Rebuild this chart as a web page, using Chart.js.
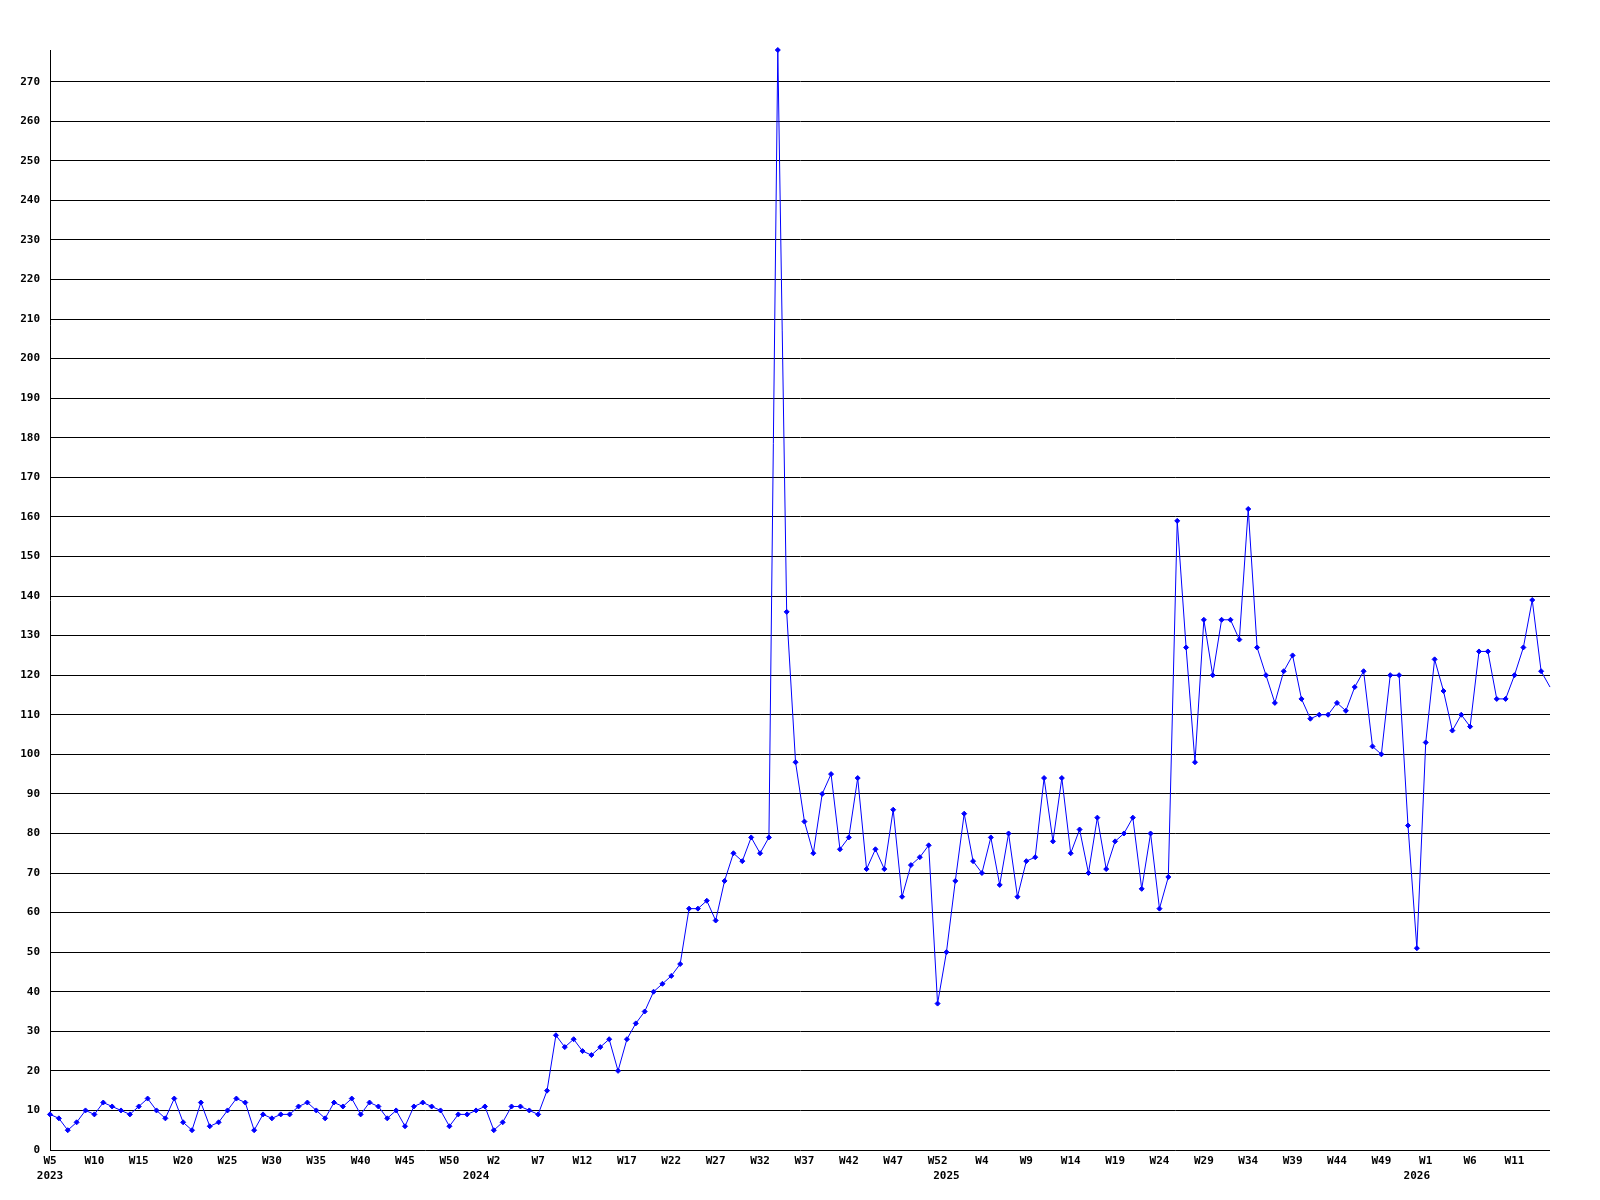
<!DOCTYPE html>
<html>
<head>
<meta charset="utf-8">
<script src="https://cdn.jsdelivr.net/npm/chart.js@4"></script>
<style>
  body { margin: 0; background: #fff; }
</style>
</head>
<body>
<canvas id="weekly" width="1600" height="1200"></canvas>
<script>
// weeks covered per year (first / last week number shown)
const years = [2023, 2024, 2025, 2026];
const firstWeek = [5, 0, 0, 0];
const lastWeek = [52, 52, 52, 15];

const counts = [
  9, 8, 5, 7, 10, 9, 12, 11, 10, 9,
  11, 13, 10, 8, 13, 7, 5, 12, 6, 7,
  10, 13, 12, 5, 9, 8, 9, 9, 11, 12,
  10, 8, 12, 11, 13, 9, 12, 11, 8, 10,
  6, 11, 12, 11, 10, 6, 9, 9, 10, 11,
  5, 7, 11, 11, 10, 9, 15, 29, 26, 28,
  25, 24, 26, 28, 20, 28, 32, 35, 40, 42,
  44, 47, 61, 61, 63, 58, 68, 75, 73, 79,
  75, 79, 278, 136, 98, 83, 75, 90, 95, 76,
  79, 94, 71, 76, 71, 86, 64, 72, 74, 77,
  37, 50, 68, 85, 73, 70, 79, 67, 80, 64,
  73, 74, 94, 78, 94, 75, 81, 70, 84, 71,
  78, 80, 84, 66, 80, 61, 69, 159, 127, 98,
  134, 120, 134, 134, 129, 162, 127, 120, 113, 121,
  125, 114, 109, 110, 110, 113, 111, 117, 121, 102,
  100, 120, 120, 82, 51, 103, 124, 116, 106, 110,
  107, 126, 126, 114, 114, 120, 127, 139, 121, 117
];

const yMax = 278;
const yStep = 10;

// build the week categories and remember where each year starts
const weeks = [];
const yearAt = {};
years.forEach((y, k) => {
  yearAt[weeks.length] = String(y);
  for (let w = firstWeek[k]; w <= lastWeek[k]; w++) weeks.push('W' + w);
});

const font = { family: '"DejaVu Sans Mono", monospace', size: 11, weight: 'bold', lineHeight: '15px' };

new Chart(document.getElementById('weekly').getContext('2d'), {
  type: 'line',
  data: {
    labels: weeks,
    datasets: [{
      data: counts,
      borderColor: '#0000ff',
      backgroundColor: '#0000ff',
      borderWidth: 1,
      tension: 0,
      pointStyle: 'rectRot',
      pointRadius: ctx => ctx.dataIndex === counts.length - 1 ? 0 : 2.5,
      pointBorderWidth: 1,
      clip: false
    }]
  },
  options: {
    responsive: false,
    animation: false,
    layout: { padding: { top: 50, right: 50, left: 0, bottom: 0 } },
    plugins: { legend: { display: false }, tooltip: { enabled: false } },
    scales: {
      x: {
        offset: false,
        grid: { display: false, drawTicks: false },
        border: { display: false },
        afterFit: s => { s.height = 50; },
        ticks: {
          autoSkip: false,
          maxRotation: 0,
          padding: 4,
          color: '#000',
          font: font,
          callback: (v, i) => {
            const wk = i % 5 === 0 ? weeks[i] : '';
            if (yearAt[i]) return [wk, yearAt[i]];
            return wk || null;
          }
        }
      },
      y: {
        min: 0,
        max: yMax,
        grid: { color: '#000', lineWidth: 1, drawTicks: false },
        border: { display: true, color: '#000', width: 1 },
        afterFit: s => { s.width = 50; },
        ticks: {
          stepSize: yStep,
          includeBounds: false,
          padding: 10,
          color: '#000',
          font: font
        }
      }
    }
  }
});
</script>
</body>
</html>
